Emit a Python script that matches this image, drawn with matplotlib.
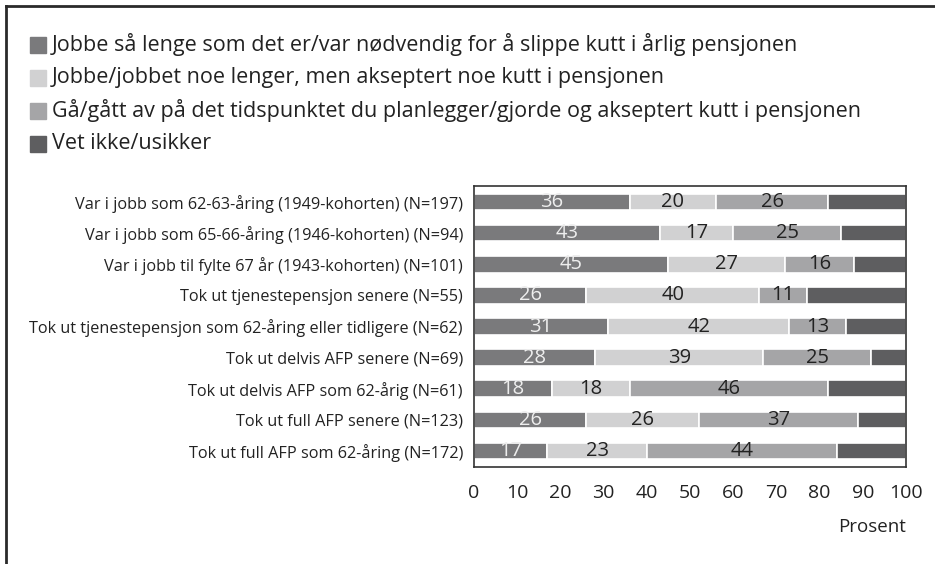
import matplotlib
matplotlib.use("Agg")
import matplotlib.pyplot as plt
from matplotlib.patches import Rectangle
from matplotlib.lines import Line2D
import numpy as np

plt.rcParams['font.family'] = ['Open Sans', 'DejaVu Sans']

categories = [
    "Var i jobb som 62-63-åring (1949-kohorten) (N=197)",
    "Var i jobb som 65-66-åring (1946-kohorten) (N=94)",
    "Var i jobb til fylte 67 år (1943-kohorten) (N=101)",
    "Tok ut tjenestepensjon senere (N=55)",
    "Tok ut tjenestepensjon som 62-åring eller tidligere (N=62)",
    "Tok ut delvis AFP senere (N=69)",
    "Tok ut delvis AFP som 62-årig (N=61)",
    "Tok ut full AFP senere (N=123)",
    "Tok ut full AFP som 62-åring (N=172)",
]
series_names = [
    "Jobbe så lenge som det er/var nødvendig for å slippe kutt i årlig pensjonen",
    "Jobbe/jobbet noe lenger, men akseptert noe kutt i pensjonen",
    "Gå/gått av på det tidspunktet du planlegger/gjorde og akseptert kutt i pensjonen",
    "Vet ikke/usikker",
]
s1 = [36, 43, 45, 26, 31, 28, 18, 26, 17]
s2 = [20, 17, 27, 40, 42, 39, 18, 26, 23]
s3 = [26, 25, 16, 11, 13, 25, 46, 37, 44]
s4 = [18, 15, 12, 23, 14, 8, 18, 11, 16]
xticks = [0, 10, 20, 30, 40, 50, 60, 70, 80, 90, 100]

colors = ['#7a7a7c', '#d1d1d2', '#a5a5a7', '#5e5e60']
label_colors = ['#eeeeee', '#222222', '#222222', None]

W, H = 935, 564
fig = plt.figure(figsize=(W / 100, H / 100), dpi=100)

# outer frame (left and top lines)
fig.add_artist(Line2D([6 / W, 6 / W], [0, 1 - 6 / H], transform=fig.transFigure,
                      color='#2a2a2a', lw=2))
fig.add_artist(Line2D([6 / W, 1], [1 - 6 / H, 1 - 6 / H], transform=fig.transFigure,
                      color='#2a2a2a', lw=2))

ax = fig.add_axes([474 / W, 1 - 467 / H, 432 / W, 281 / H])
y = np.arange(len(categories))
series = [s1, s2, s3, s4]
left = np.zeros(len(categories))
for i, vals in enumerate(series):
    vals = np.array(vals, dtype=float)
    ax.barh(y, vals, left=left, height=0.53, color=colors[i], edgecolor='white', linewidth=1.2)
    if label_colors[i] is not None:
        for yy, l, v in zip(y, left, vals):
            ax.text(l + v / 2, yy, f"{int(v)}", ha='center', va='center',
                    color=label_colors[i], fontsize=14.5)
    left += vals

ax.set_xlim(0, 100)
ax.set_ylim(len(categories) - 0.48, -0.52)
ax.set_yticks(y)
ax.set_yticklabels(categories, fontsize=11.7, color='#222222')
ax.set_xticks(xticks)
ax.set_xticklabels([str(t) for t in xticks], fontsize=14, color='#222222')
ax.tick_params(axis='both', length=0)
ax.tick_params(axis='y', pad=8)
ax.tick_params(axis='x', pad=12)
for sp in ax.spines.values():
    sp.set_color('#333333')
    sp.set_linewidth(1.2)
ax.set_xlabel("Prosent", fontsize=13.5, color='#222222', loc='right', labelpad=12)

# legend
leg_y = [45, 78, 111, 144]
for i, name in enumerate(series_names):
    cy = leg_y[i]
    fig.add_artist(Rectangle((30 / W, 1 - (cy + 8) / H), 16 / W, 16 / H,
                             transform=fig.transFigure, color=colors[i]))
    fig.text(52 / W, 1 - cy / H, name, fontsize=15.5, color='#222222',
             ha='left', va='center')

fig.savefig("out.png", dpi=100)
